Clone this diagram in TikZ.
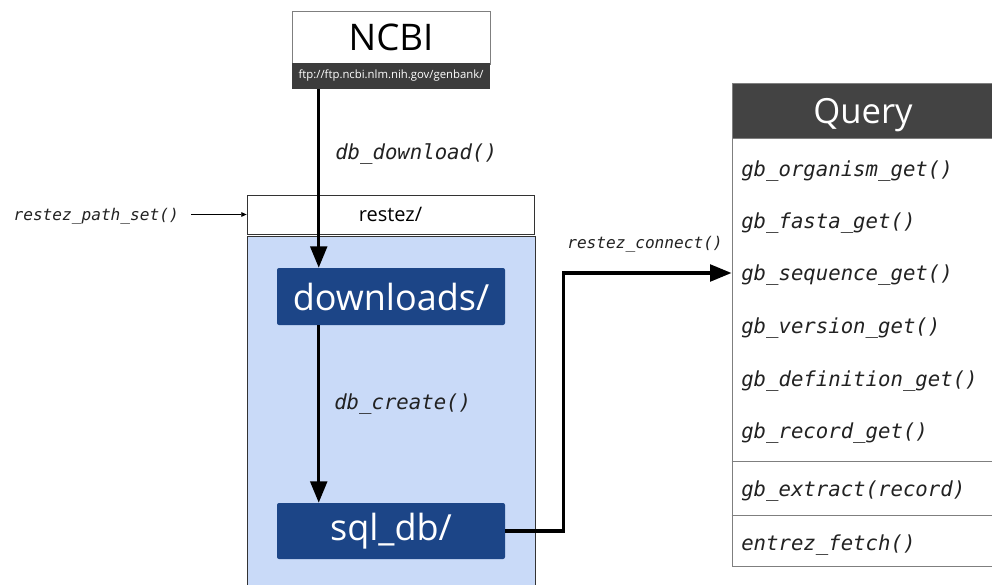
\documentclass[tikz,border=0pt]{standalone}
\usepackage{fontspec}
\setmainfont{Open Sans}
\newfontfamily\codefont{DejaVu Sans Mono}
\usetikzlibrary{arrows.meta,calc}

\definecolor{navy}{HTML}{1C4587}
\definecolor{paleblue}{HTML}{C9DAF8}
\definecolor{charcoal}{HTML}{434343}
\definecolor{bandgray}{HTML}{3C3C3C}
\definecolor{edgegray}{HTML}{7F7F7F}
\definecolor{inkgray}{HTML}{222222}

\tikzset{
  dirbox/.style={fill=navy, text=white, rounded corners=1.5pt,
    minimum width=171pt, inner sep=0pt,
    font=\fontsize{27}{30}\selectfont},
  fncode/.style={font=\codefont\itshape\fontsize{15.5}{17}\selectfont, text=inkgray, inner sep=0pt},
  fnsmall/.style={font=\codefont\itshape\fontsize{12.1}{14}\selectfont, text=inkgray, inner sep=0pt},
  bigarrow/.style={line width=2.3pt, -{Triangle[length=16pt,width=12.5pt]}},
  thinarrow/.style={line width=0.6pt, -{Triangle[length=4pt,width=3.5pt]}},
  item/.style={fncode, anchor=west},
}

\begin{document}
\begin{tikzpicture}[x=0.75pt, y=-0.75pt]
\useasboundingbox (0,0) rectangle (992,585);
\clip (0,0) rectangle (992,585);
\fill[white] (0,0) rectangle (992,585);

% NCBI source
\node[draw=edgegray, line width=0.6pt, fill=white, minimum width=148.5pt, minimum height=39.75pt,
      inner sep=0pt, font=\fontsize{27.5}{30}\selectfont] (ncbi) at (391,37.5) {NCBI};
\node[fill=bandgray, text=white, minimum width=148.5pt, minimum height=19.5pt, inner sep=0pt,
      font=\fontsize{8.5}{10}\selectfont] (band) at (391,76) {ftp://ftp.ncbi.nlm.nih.gov/genbank/};

% local restez folder
\node[draw=black!80, line width=0.6pt, fill=white, minimum width=215.25pt, minimum height=29.25pt,
      inner sep=0pt, font=\fontsize{15}{17}\selectfont] (restez) at (390.5,214.5) {restez/};
\node[draw=black!80, line width=0.6pt, fill=paleblue, minimum width=216pt, minimum height=273pt,
      inner sep=0pt] (store) at (391,418) {};

\node[dirbox, minimum height=42.75pt] (dl) at (391,296.5) {downloads/};
\node[dirbox, minimum height=42pt] (sql) at (391,531) {sql\_db/};

% query functions
\node[draw=edgegray, line width=0.75pt, fill=white, minimum width=196.5pt, minimum height=321pt,
      inner sep=0pt] (qbody) at (863,352) {};
\node[draw=edgegray, line width=0.75pt, fill=charcoal, minimum width=196.5pt,
      minimum height=40.5pt, inner sep=0pt] (qhead) at (863,111) {};
\node[text=white, inner sep=0pt, font=\fontsize{26}{30}\selectfont] (qtitle) at (863,115) {Query};

\node[item] (organism) at (741,171.5) {gb\_organism\_get()};
\node[item] (fasta) at (741,223.5) {gb\_fasta\_get()};
\node[item] (seq) at (741,275.5) {gb\_sequence\_get()};
\node[item] (version) at (741,328.5) {gb\_version\_get()};
\node[item] (definition) at (741,381.5) {gb\_definition\_get()};
\node[item] (record) at (741,433.5) {gb\_record\_get()};
\node[item] (extract) at (741,491.5) {gb\_extract(record)};
\node[item] (fetch) at (741,545.5) {entrez\_fetch()};

\coordinate (sepA) at (0,461);
\coordinate (sepB) at (0,515);
\draw[edgegray, line width=0.75pt] (qbody.west |- sepA) -- (qbody.east |- sepA);
\draw[edgegray, line width=0.75pt] (qbody.west |- sepB) -- (qbody.east |- sepB);

% connectors
\coordinate (tap) at ($(dl.north west)+(42,0)$);
\draw[bigarrow] (band.south -| tap) -- (tap);
\node[fncode, anchor=west] (dlabel) at (335,154) {db\_download()};

\draw[bigarrow] (dl.south -| tap) -- (sql.north -| tap);
\node[fncode, anchor=west] (clabel) at (334,404) {db\_create()};

\node[fnsmall, anchor=east] (pathset) at (179,216.5) {restez\_path\_set()};
\draw[thinarrow] ([xshift=9pt]pathset.east |- restez.west) -- (restez.west);

\coordinate (bend) at ($(sql.east)+(58,0)$);
\coordinate (entry) at (732,273);
\draw[bigarrow] (sql.east) -- (bend) |- (qbody.west |- entry);
\node[fnsmall] (connlabel) at (645,244) {restez\_connect()};
\end{tikzpicture}
\end{document}
